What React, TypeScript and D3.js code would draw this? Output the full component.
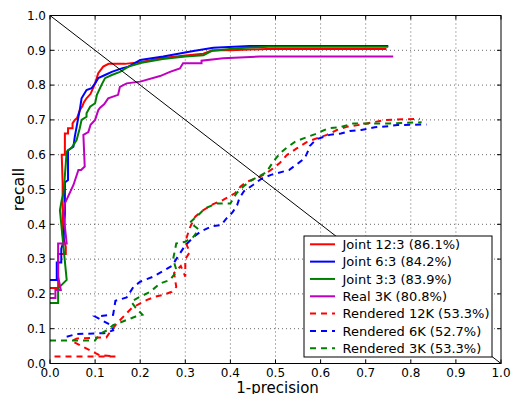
import React from "react";
import * as d3 from "d3";

type P = [number, number];

const seriesNames = [
  "Joint 12:3 (86.1%)",
  "Joint 6:3 (84.2%)",
  "Joint 3:3 (83.9%)",
  "Real 3K (80.8%)",
  "Rendered 12K (53.3%)",
  "Rendered 6K (52.7%)",
  "Rendered 3K (53.3%)",
];
const seriesColors = ["#ff0000", "#0000ff", "#008000", "#bf00bf", "#ff0000", "#0000ff", "#008000"];
const seriesDashed = [false, false, false, false, true, true, true];

const joint12: P[] = [
  [0.0, 0.217], [0.018, 0.217], [0.018, 0.315], [0.035, 0.315], [0.035, 0.335], [0.028, 0.37],
  [0.028, 0.52], [0.026, 0.6], [0.033, 0.6], [0.033, 0.661], [0.04, 0.661], [0.04, 0.676],
  [0.05, 0.676], [0.05, 0.69], [0.055, 0.7], [0.06, 0.705], [0.066, 0.728], [0.072, 0.74],
  [0.075, 0.75], [0.081, 0.762], [0.09, 0.775], [0.095, 0.79], [0.1, 0.805], [0.107, 0.834],
  [0.118, 0.853], [0.13, 0.861], [0.166, 0.861], [0.2, 0.866], [0.25, 0.878], [0.3, 0.885],
  [0.34, 0.89], [0.36, 0.9], [0.4, 0.9], [0.48, 0.904], [0.746, 0.904],
];
const joint6: P[] = [
  [0.0, 0.24], [0.015, 0.24], [0.015, 0.29], [0.025, 0.29], [0.025, 0.33], [0.03, 0.35],
  [0.033, 0.43], [0.033, 0.52], [0.04, 0.527], [0.04, 0.613], [0.052, 0.623], [0.055, 0.652],
  [0.059, 0.68], [0.063, 0.709], [0.066, 0.728], [0.07, 0.762], [0.081, 0.786], [0.092, 0.791],
  [0.1, 0.805], [0.107, 0.82], [0.122, 0.829], [0.137, 0.838], [0.159, 0.848], [0.174, 0.853],
  [0.188, 0.863], [0.2, 0.872], [0.251, 0.882], [0.318, 0.898], [0.362, 0.907], [0.443, 0.912],
  [0.75, 0.912],
];
const joint3: P[] = [
  [0.0, 0.174], [0.018, 0.174], [0.018, 0.216], [0.037, 0.24], [0.022, 0.44], [0.026, 0.47],
  [0.03, 0.489], [0.037, 0.609], [0.048, 0.62], [0.059, 0.642], [0.066, 0.676], [0.07, 0.7],
  [0.081, 0.709], [0.081, 0.719], [0.089, 0.738], [0.1, 0.748], [0.104, 0.772], [0.114, 0.8],
  [0.122, 0.82], [0.137, 0.829], [0.155, 0.838], [0.174, 0.853], [0.203, 0.864], [0.25, 0.875],
  [0.3, 0.882], [0.34, 0.886], [0.358, 0.898], [0.414, 0.906], [0.484, 0.91], [0.75, 0.91],
];
const real3k: P[] = [
  [0.0, 0.188], [0.012, 0.188], [0.012, 0.211], [0.024, 0.211], [0.018, 0.25], [0.018, 0.345],
  [0.037, 0.345], [0.03, 0.43], [0.033, 0.46], [0.052, 0.513], [0.063, 0.556], [0.069, 0.556],
  [0.077, 0.566], [0.074, 0.657], [0.085, 0.665], [0.09, 0.686], [0.1, 0.7], [0.107, 0.728],
  [0.111, 0.735], [0.12, 0.745], [0.129, 0.762], [0.151, 0.772], [0.155, 0.795], [0.17, 0.805],
  [0.2, 0.81], [0.244, 0.826], [0.266, 0.838], [0.288, 0.848], [0.295, 0.863], [0.336, 0.863],
  [0.336, 0.87], [0.384, 0.877], [0.466, 0.882], [0.761, 0.882],
];
const rendered12k: P[] = [
  [0.01, 0.02], [0.145, 0.02], [0.11, 0.024], [0.048, 0.065], [0.06, 0.072], [0.125, 0.075],
  [0.133, 0.09], [0.148, 0.115], [0.166, 0.139], [0.181, 0.159], [0.2, 0.173], [0.214, 0.182],
  [0.233, 0.192], [0.251, 0.197], [0.27, 0.206], [0.28, 0.22], [0.275, 0.26], [0.29, 0.28],
  [0.3, 0.25], [0.3, 0.3], [0.31, 0.32], [0.3, 0.35], [0.31, 0.39], [0.322, 0.422], [0.34, 0.441],
  [0.362, 0.458], [0.384, 0.47], [0.41, 0.489], [0.422, 0.508], [0.436, 0.522], [0.458, 0.532],
  [0.48, 0.547], [0.495, 0.561], [0.51, 0.577], [0.525, 0.599], [0.547, 0.618], [0.569, 0.636],
  [0.591, 0.647], [0.614, 0.657], [0.636, 0.671], [0.658, 0.68], [0.683, 0.685], [0.7, 0.689],
  [0.724, 0.695], [0.746, 0.7], [0.77, 0.701], [0.82, 0.703],
];
const rendered6k: P[] = [
  [0.037, 0.077], [0.06, 0.085], [0.12, 0.087], [0.14, 0.095], [0.135, 0.11], [0.1, 0.135],
  [0.14, 0.14], [0.145, 0.18], [0.17, 0.19], [0.185, 0.22], [0.2, 0.235], [0.23, 0.25],
  [0.25, 0.265], [0.27, 0.28], [0.285, 0.31], [0.3, 0.34], [0.32, 0.365], [0.335, 0.38],
  [0.36, 0.395], [0.38, 0.398], [0.39, 0.415], [0.405, 0.435], [0.415, 0.455], [0.42, 0.475],
  [0.43, 0.495], [0.45, 0.513], [0.47, 0.532], [0.49, 0.542], [0.53, 0.556], [0.55, 0.575],
  [0.565, 0.59], [0.572, 0.61], [0.576, 0.625], [0.59, 0.644], [0.62, 0.657], [0.645, 0.661],
  [0.665, 0.668], [0.69, 0.671], [0.72, 0.679], [0.75, 0.682], [0.77, 0.685], [0.835, 0.687],
];
const rendered3k: P[] = [
  [0.0, 0.066], [0.1, 0.066], [0.11, 0.085], [0.126, 0.095], [0.14, 0.11], [0.17, 0.125],
  [0.19, 0.135], [0.205, 0.14], [0.19, 0.16], [0.18, 0.178], [0.2, 0.192], [0.222, 0.206],
  [0.244, 0.23], [0.266, 0.24], [0.281, 0.265], [0.273, 0.3], [0.28, 0.345], [0.3, 0.35],
  [0.318, 0.364], [0.33, 0.385], [0.31, 0.405], [0.329, 0.427], [0.344, 0.446], [0.37, 0.46],
  [0.4, 0.46], [0.414, 0.49], [0.43, 0.51], [0.447, 0.527], [0.462, 0.537], [0.48, 0.55],
  [0.495, 0.58], [0.51, 0.604], [0.525, 0.62], [0.543, 0.637], [0.562, 0.647], [0.588, 0.659],
  [0.617, 0.676], [0.643, 0.679], [0.673, 0.69], [0.7, 0.69], [0.754, 0.69], [0.824, 0.693],
];
const seriesData: P[][] = [joint12, joint6, joint3, real3k, rendered12k, rendered6k, rendered3k];

const tickValues = [0, 0.1, 0.2, 0.3, 0.4, 0.5, 0.6, 0.7, 0.8, 0.9, 1.0];
const xLabel = "1-precision";
const yLabel = "recall";

const W = 513;
const H = 394;
const L = 50, R = 501, T = 15.5, B = 363.5;
const FONT = "DejaVu Sans, sans-serif";

export default function App() {
  const x = d3.scaleLinear().domain([0, 1]).range([L, R]);
  const y = d3.scaleLinear().domain([0, 1]).range([B, T]);
  const line = d3.line<P>().x((d) => x(d[0])).y((d) => y(d[1]));

  const legX = 304, legY = 236, legW = 188, legH = 121;
  const rowY0 = 244.3, rowDy = 17.33;

  return (
    <svg width={W} height={H} style={{ position: "absolute", left: 0, top: 0, background: "#fff" }}>
      <rect x={0} y={0} width={W} height={H} fill="#fff" />
      <g stroke="#000" strokeWidth={0.6} strokeDasharray="1,3">
        {tickValues.slice(1, -1).map((t) => (
          <line key={"gx" + t} x1={x(t)} x2={x(t)} y1={T} y2={B} />
        ))}
        {tickValues.slice(1, -1).map((t) => (
          <line key={"gy" + t} x1={L} x2={R} y1={y(t)} y2={y(t)} />
        ))}
      </g>
      <g fill="none">
        {seriesData.map((d, i) => (
          <path
            key={i}
            d={line(d) || ""}
            stroke={seriesColors[i]}
            strokeWidth={2}
            strokeDasharray={seriesDashed[i] ? "6,5" : undefined}
          />
        ))}
      </g>
      <path d={line([[0, 1], [1, 0]]) || ""} stroke="#000" strokeWidth={1} fill="none" />
      <rect x={L} y={T} width={R - L} height={B - T} fill="none" stroke="#000" strokeWidth={1} />
      <g stroke="#000" strokeWidth={1}>
        {tickValues.map((t) => (
          <g key={"t" + t}>
            <line x1={x(t)} x2={x(t)} y1={B} y2={B - 4} />
            <line x1={x(t)} x2={x(t)} y1={T} y2={T + 4} />
            <line x1={L} x2={L + 4} y1={y(t)} y2={y(t)} />
            <line x1={R} x2={R - 4} y1={y(t)} y2={y(t)} />
          </g>
        ))}
      </g>
      <g fontFamily={FONT} fontSize={12} fill="#000">
        {tickValues.map((t) => (
          <text key={"xl" + t} x={x(t)} y={377} textAnchor="middle">
            {t.toFixed(1)}
          </text>
        ))}
        {tickValues.map((t) => (
          <text key={"yl" + t} x={L - 4} y={y(t) + 4.3} textAnchor="end">
            {t.toFixed(1)}
          </text>
        ))}
      </g>
      <text x={(L + R) / 2 + 2} y={393} textAnchor="middle" fontFamily={FONT} fontSize={15}>
        {xLabel}
      </text>
      <text
        transform={`translate(24,${(T + B) / 2}) rotate(-90)`}
        textAnchor="middle"
        fontFamily={FONT}
        fontSize={16}
      >
        {yLabel}
      </text>
      <rect x={legX} y={legY} width={legW} height={legH} fill="#fff" stroke="#000" strokeWidth={1} />
      {seriesNames.map((n, i) => {
        const cy = rowY0 + i * rowDy;
        return (
          <g key={"lg" + i}>
            <line
              x1={310}
              x2={335}
              y1={cy}
              y2={cy}
              stroke={seriesColors[i]}
              strokeWidth={2}
              strokeDasharray={seriesDashed[i] ? "6,5" : undefined}
            />
            <text x={342.5} y={cy + 4.6} fontFamily={FONT} fontSize={13}>
              {n}
            </text>
          </g>
        );
      })}
    </svg>
  );
}
